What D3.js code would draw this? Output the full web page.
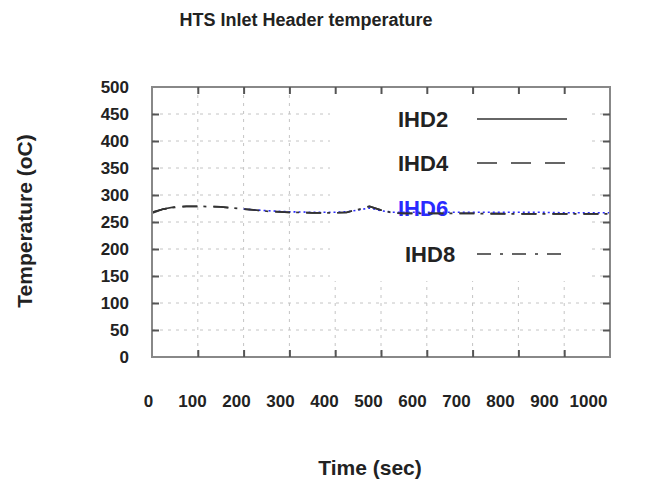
<!DOCTYPE html>
<html>
<head>
<meta charset="utf-8">
<script src="https://cdn.jsdelivr.net/npm/d3@7/dist/d3.min.js"></script>
<style>
  html, body { margin: 0; padding: 0; background: #fff; }
  svg { display: block; }
  text { font-family: "Liberation Sans", Arial, sans-serif; font-weight: bold; fill: #222; }
</style>
</head>
<body>
<svg id="chart" width="647" height="482"></svg>
<script>
// Time axis (s) and temperatures (°C) of the inlet header channels
const time = [0, 25, 50, 75, 100, 150, 200, 250, 300, 350, 400, 425, 450, 475, 500, 525, 550, 600, 650, 700, 750, 800, 850, 900, 950, 1000];
const ihd2 = [266, 274, 278, null, null, null, null, null, null, null, null, null, null, null, null, null, null, null, null, null, null, null, null, null, null, null];
const ihd4 = [268, 274, 277, 279, 279, 278, 274, 270, 268, 267, 267, 268, 273, 279, 272, 267, 266, 266, 266, 266, 266, 265, 265, 265, 265, 265];
const ihd6 = [null, null, null, null, null, null, 274, 271, 269, 268, 268, 269, 272, 276, 271, 268, 268, 268, 268, 268, 268, 268, 268, 267, 267, 267];
const ihd8 = [268, 274, 277, 279, 279, 278, 274, 270, 268, 267, 267, 268, 273, 279, 272, 267, 266, 266, 266, 266, 265, 265, 265, 265, 265, 265];

const seriesNames = ["IHD2", "IHD4", "IHD6", "IHD8"];
const seriesValues = [ihd2, ihd4, ihd6, ihd8];

const xTicks = [0, 100, 200, 300, 400, 500, 600, 700, 800, 900, 1000];
const yTicks = [0, 50, 100, 150, 200, 250, 300, 350, 400, 450, 500];

const titleText = "HTS Inlet Header temperature";
const xTitle = "Time (sec)";
const yTitle = "Temperature (oC)";

// Line styles per series (IHD4 and IHD8 share one dash period)
const styles = {
  IHD2: { color: "#333", dash: null, width: 1.6 },
  IHD4: { color: "#333", dash: "15,16", width: 1.7 },
  IHD6: { color: "#2a2aff", dash: "2,3", width: 1.6 },
  IHD8: { color: "#333", dash: "15,6,3,7", width: 1.7 }
};
const legendDash = { IHD4: "20,14", IHD8: "14,9,3,9" };

const svg = d3.select("#chart");
const L = 152, R = 610, T = 87, B = 357;

const x = d3.scaleLinear().domain([0, 1000]).range([L, R]);
const y = d3.scaleLinear().domain([0, 500]).range([B, T]);
// tick labels under the time axis sit on a slightly narrower spread
const xLab = d3.scaleLinear().domain([0, 1000]).range([148, 588]);

// grid
const grid = svg.append("g");
grid.selectAll(".gv").data(xTicks.slice(1, -1)).join("line")
  .attr("x1", d => x(d)).attr("x2", d => x(d)).attr("y1", T).attr("y2", B)
  .attr("stroke", "#c4c4c4").attr("stroke-width", 1).attr("stroke-dasharray", "3,5");
grid.selectAll(".gh").data(yTicks.slice(1, -1)).join("line")
  .attr("x1", L).attr("x2", R).attr("y1", d => y(d)).attr("y2", d => y(d))
  .attr("stroke", "#c4c4c4").attr("stroke-width", 1).attr("stroke-dasharray", "3,5");

// legend background hides the grid behind it
svg.append("rect").attr("x", 330).attr("y", T + 1).attr("width", 258).attr("height", 193).attr("fill", "#fff");

// legend
const legY = [119, 163, 208, 254];
const legX = [398, 398, 398, 405];
const legLine = [[477, 567], [477, 567], null, [477, 562]];
seriesNames.forEach((name, i) => {
  const st = styles[name];
  svg.append("text").attr("x", legX[i]).attr("y", legY[i]).attr("dy", "0.36em")
    .attr("font-size", 22).style("fill", name === "IHD6" ? "#2a2aff" : "#222").text(name);
  if (legLine[i]) {
    svg.append("line").attr("x1", legLine[i][0]).attr("x2", legLine[i][1])
      .attr("y1", legY[i]).attr("y2", legY[i])
      .attr("stroke", st.color).attr("stroke-width", st.width)
      .attr("stroke-dasharray", legendDash[name] || st.dash);
  }
});

// data lines
const line = d3.line().defined(d => d[1] != null).x(d => x(d[0])).y(d => y(d[1]));
seriesNames.forEach((name, i) => {
  const st = styles[name];
  svg.append("path").datum(time.map((t, j) => [t, seriesValues[i][j]]))
    .attr("d", line).attr("fill", "none")
    .attr("stroke", st.color).attr("stroke-width", st.width)
    .attr("stroke-dasharray", st.dash);
});

// frame
svg.append("rect").attr("x", L).attr("y", T).attr("width", R - L).attr("height", B - T)
  .attr("fill", "none").attr("stroke", "#888").attr("stroke-width", 2);

// inward ticks on all four sides
function styleTicks(g) {
  g.select(".domain").remove();
  g.selectAll(".tick line").attr("stroke", "#555").attr("stroke-width", 2);
  g.selectAll(".tick text").remove();
}
svg.append("g").attr("transform", `translate(0,${B})`)
  .call(d3.axisBottom(x).tickValues(xTicks.slice(1, -1)).tickSize(-7)).call(styleTicks);
svg.append("g").attr("transform", `translate(0,${T})`)
  .call(d3.axisTop(x).tickValues(xTicks.slice(1, -1)).tickSize(-7)).call(styleTicks);
svg.append("g").attr("transform", `translate(${L},0)`)
  .call(d3.axisLeft(y).tickValues(yTicks.slice(1, -1)).tickSize(-7)).call(styleTicks);
svg.append("g").attr("transform", `translate(${R},0)`)
  .call(d3.axisRight(y).tickValues(yTicks.slice(1, -1)).tickSize(-7)).call(styleTicks);

// tick labels
const yAx = svg.append("g").attr("transform", `translate(${L},0)`)
  .call(d3.axisLeft(y).tickValues(yTicks).tickFormat(d3.format("d")).tickSize(0).tickPadding(23));
yAx.select(".domain").remove();
yAx.selectAll("text").attr("font-size", 17).attr("font-family", null).style("fill", "#222");

const xAx = svg.append("g").attr("transform", `translate(0,${B})`)
  .call(d3.axisBottom(xLab).tickValues(xTicks).tickFormat(d3.format("d")).tickSize(0).tickPadding(38));
xAx.select(".domain").remove();
xAx.selectAll("text").attr("font-size", 17).attr("font-family", null).style("fill", "#222");

// titles
svg.append("text").attr("x", 306).attr("y", 26).attr("text-anchor", "middle")
  .attr("font-size", 18).text(titleText);
svg.append("text").attr("x", 370).attr("y", 475).attr("text-anchor", "middle")
  .attr("font-size", 21).text(xTitle);
svg.append("text").attr("transform", "translate(32,221) rotate(-90)").attr("text-anchor", "middle")
  .attr("font-size", 21).text(yTitle);
</script>
</body>
</html>
